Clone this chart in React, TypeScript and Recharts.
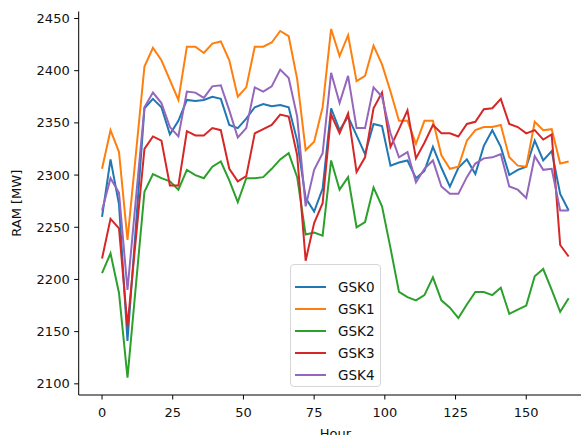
import React from 'react';
import { LineChart, Line, XAxis, YAxis } from 'recharts';

const HOURS = [0, 3, 6, 9, 12, 15, 18, 21, 24, 27, 30, 33, 36, 39, 42, 45, 48, 51, 54, 57, 60, 63, 66, 69, 72, 75, 78, 81, 84, 87, 90, 93, 96, 99, 102, 105, 108, 111, 114, 117, 120, 123, 126, 129, 132, 135, 138, 141, 144, 147, 150, 153, 156, 159, 162, 165];

const GSK0 = [2260, 2315, 2272, 2141, 2252, 2364, 2373, 2365, 2339, 2352,
  2372, 2371, 2372, 2375, 2373, 2348, 2345, 2354, 2365, 2368,
  2366, 2367, 2365, 2333, 2278, 2265, 2287, 2364, 2343, 2356,
  2338, 2320, 2349, 2347, 2309, 2312, 2314, 2297, 2304, 2327,
  2307, 2289, 2307, 2315, 2301, 2328, 2343, 2327, 2300, 2305,
  2308, 2333, 2314, 2323, 2282, 2266];
const GSK1 = [2306, 2343, 2322, 2238, 2321, 2404, 2422, 2410, 2391, 2372,
  2423, 2423, 2417, 2426, 2428, 2410, 2375, 2384, 2423, 2423,
  2427, 2438, 2433, 2392, 2324, 2332, 2365, 2440, 2414, 2434,
  2390, 2395, 2424, 2406, 2380, 2352, 2352, 2330, 2352, 2352,
  2319, 2306, 2308, 2333, 2343, 2346, 2346, 2348, 2317, 2309,
  2308, 2351, 2343, 2344, 2311, 2313];
const GSK2 = [2206, 2225, 2187, 2106, 2195, 2284, 2301, 2297, 2294, 2286,
  2305, 2300, 2297, 2308, 2313, 2295, 2274, 2297, 2297, 2298,
  2306, 2315, 2321, 2298, 2243, 2245, 2242, 2314, 2286, 2298,
  2250, 2255, 2288, 2270, 2230, 2188, 2183, 2180, 2185, 2202,
  2180, 2173, 2163, 2176, 2188, 2188, 2185, 2192, 2167, 2171,
  2175, 2203, 2210, 2190, 2169, 2182];
const GSK3 = [2220, 2258, 2249, 2155, 2240, 2325, 2337, 2333, 2290, 2290,
  2342, 2338, 2338, 2345, 2343, 2306, 2294, 2299, 2340, 2344,
  2348, 2358, 2356, 2319, 2218, 2254, 2273, 2358, 2340, 2359,
  2303, 2317, 2364, 2379, 2327, 2344, 2362, 2316, 2331, 2348,
  2340, 2340, 2337, 2349, 2351, 2363, 2364, 2373, 2349, 2346,
  2340, 2343, 2334, 2339, 2233, 2222];
const GSK4 = [2266, 2297, 2283, 2190, 2278, 2365, 2379, 2369, 2346, 2337,
  2380, 2379, 2374, 2385, 2386, 2362, 2336, 2345, 2384, 2380,
  2385, 2401, 2393, 2356, 2270, 2305, 2321, 2398, 2369, 2395,
  2345, 2345, 2384, 2375, 2340, 2317, 2322, 2293, 2306, 2314,
  2289, 2282, 2282, 2298, 2311, 2316, 2317, 2320, 2289, 2286,
  2278, 2318, 2305, 2306, 2266, 2266];

const SERIES_NAMES = ['GSK0', 'GSK1', 'GSK2', 'GSK3', 'GSK4'];
const SERIES_VALUES = [GSK0, GSK1, GSK2, GSK3, GSK4];
const COLORS = ['#1f77b4', '#ff7f0e', '#2ca02c', '#d62728', '#9467bd'];

const X_TICKS = [0, 25, 50, 75, 100, 125, 150];
const Y_TICKS = [2100, 2150, 2200, 2250, 2300, 2350, 2400, 2450];
const X_DOMAIN = [-8.25, 173.25];
const Y_DOMAIN = [2089.3, 2456.7];

const data = HOURS.map((h, i) => {
  const row: Record<string, number> = { hour: h };
  SERIES_NAMES.forEach((n, k) => {
    row[n] = SERIES_VALUES[k][i];
  });
  return row;
});

const FONT = '"DejaVu Sans", sans-serif';

const LegendBox = () => (
  <div
    style={{
      position: 'absolute',
      left: 290,
      top: 264,
      width: 91,
      height: 123,
      boxSizing: 'border-box',
      border: '1px solid #d6d6d6',
      borderRadius: 4,
      background: 'rgba(255,255,255,0.8)',
      paddingTop: 11,
      fontFamily: FONT,
      fontSize: 13.5,
      color: '#111',
    }}
  >
    {SERIES_NAMES.map((n, k) => (
      <div key={n} style={{ height: 22, display: 'flex', alignItems: 'center' }}>
        <div style={{ marginLeft: 4, width: 31, height: 2, background: COLORS[k] }} />
        <span style={{ marginLeft: 12, lineHeight: '22px' }}>{n}</span>
      </div>
    ))}
  </div>
);

export default function App() {
  return (
    <div
      style={{
        position: 'absolute',
        left: 0,
        top: 0,
        width: 581,
        height: 435,
        overflow: 'hidden',
        background: '#fff',
      }}
    >
      <LineChart
        width={592}
        height={450}
        data={data}
        margin={{ top: 11.5, right: 0, bottom: 0, left: 8.7 }}
        style={{ fontFamily: FONT }}
      >
        <XAxis
          dataKey="hour"
          type="number"
          domain={X_DOMAIN}
          ticks={X_TICKS}
          allowDataOverflow
          height={55}
          tickSize={4.5}
          tickMargin={8}
          axisLine={{ stroke: '#000', strokeWidth: 1 }}
          tickLine={{ stroke: '#000', strokeWidth: 1 }}
          tick={{ fill: '#111', fontSize: 13, fontFamily: FONT }}
          label={{ value: 'Hour', position: 'insideBottom', offset: 12.5, fill: '#111', fontSize: 13, fontFamily: FONT }}
        />
        <XAxis
          xAxisId="top"
          orientation="top"
          type="number"
          domain={X_DOMAIN}
          allowDataOverflow
          height={0}
          tick={false}
          tickLine={false}
          axisLine={{ stroke: '#000', strokeWidth: 1 }}
        />
        <YAxis
          type="number"
          domain={Y_DOMAIN}
          ticks={Y_TICKS}
          allowDataOverflow
          width={70}
          tickSize={4.5}
          tickMargin={4.5}
          axisLine={{ stroke: '#000', strokeWidth: 1 }}
          tickLine={{ stroke: '#000', strokeWidth: 1 }}
          tick={{ fill: '#111', fontSize: 13, fontFamily: FONT }}
          label={{
            value: 'RAM [MW]',
            angle: -90,
            position: 'insideLeft',
            offset: 8,
            fill: '#111',
            fontSize: 13,
            fontFamily: FONT,
            style: { textAnchor: 'middle' },
          }}
        />
        {SERIES_NAMES.map((n, k) => (
          <Line
            key={n}
            dataKey={n}
            name={n}
            type="linear"
            stroke={COLORS[k]}
            strokeWidth={2}
            dot={false}
            activeDot={false}
            isAnimationActive={false}
          />
        ))}
      </LineChart>
      <LegendBox />
    </div>
  );
}
